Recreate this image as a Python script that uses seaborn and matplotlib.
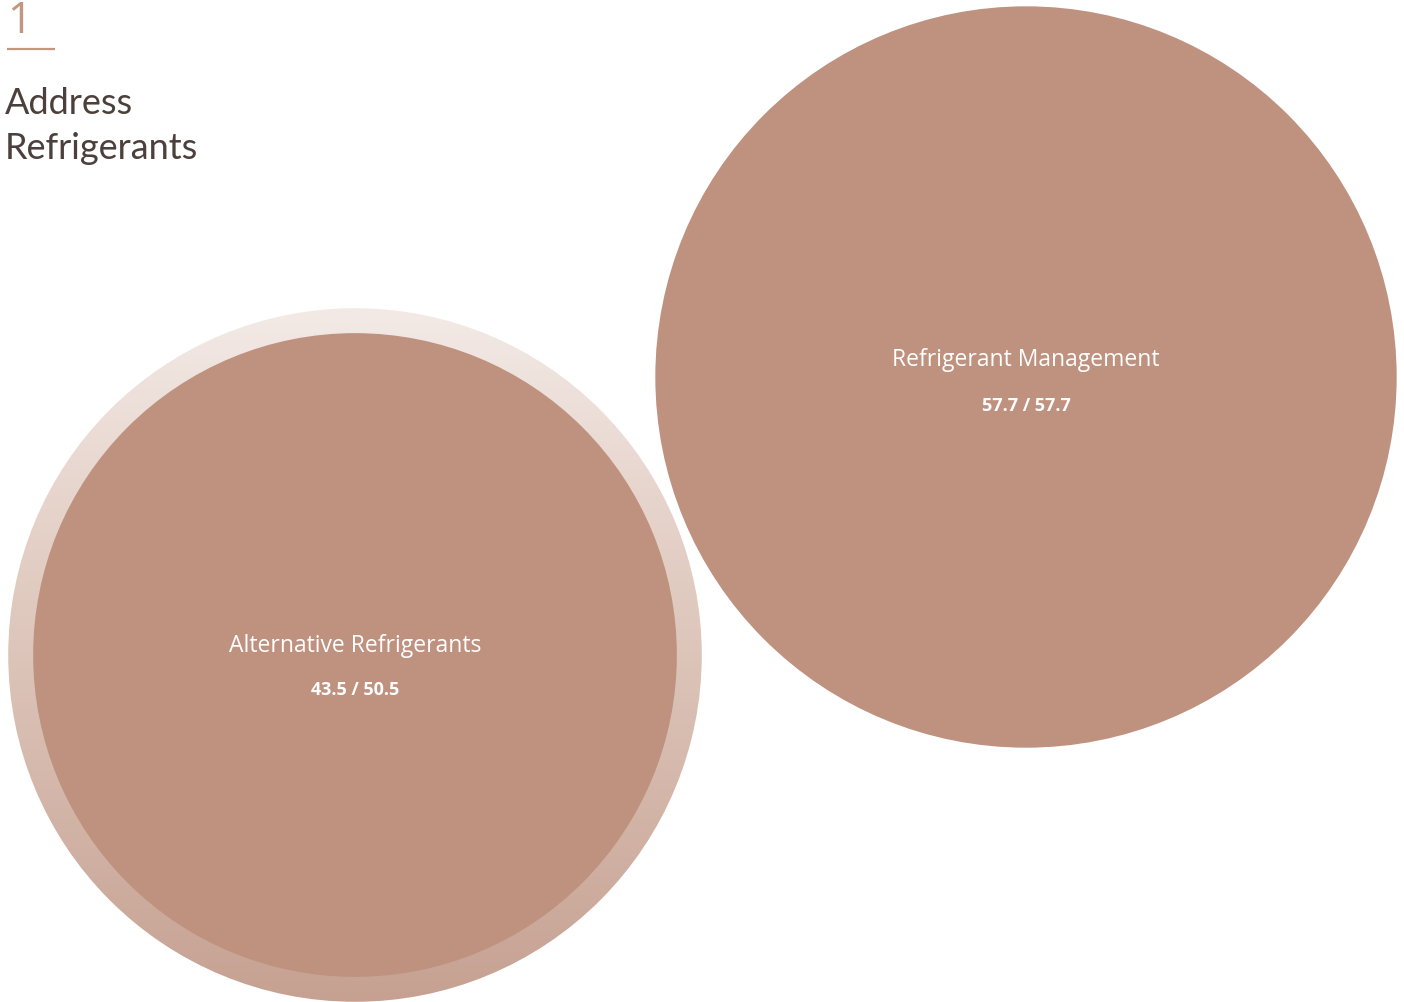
"""
Address Refrigerants - score bubbles
"""

import matplotlib.pyplot as plt
import numpy as np
import seaborn as sns
from matplotlib.colors import LinearSegmentedColormap
from matplotlib.patches import Circle

categories = ["Alternative Refrigerants", "Refrigerant Management"]
scores = [43.5, 57.7]
max_scores = [50.5, 57.7]

section_number = "1"
section_title = ["Address", "Refrigerants"]

FILL = "#bf917f"
ACCENT = "#c4957f"
DARK = "#4b403b"

# layout, in pixels (y goes down)
CENTERS = [(355, 656), (1026, 378)]
LABEL_DY = [(-10, 34), (-18, 28)]
PX_PER_SQRT = 48.8  # radius = PX_PER_SQRT * sqrt(score)


def main():
    sns.set_theme(style="white")
    plt.rcParams["font.family"] = ["Open Sans", "DejaVu Sans"]

    fig = plt.figure(figsize=(14.04, 10.03), dpi=100)
    ax = fig.add_axes([0, 0, 1, 1])
    ax.set_xlim(0, 1404)
    ax.set_ylim(1003, 0)
    ax.set_aspect("equal")
    ax.axis("off")

    ring_cmap = LinearSegmentedColormap.from_list(
        "ring", ["#f3eae6", "#e4d0c7", "#d5b9ac", "#c6a192"]
    )

    for cat, val, top, (cx, cy), (dl, dv) in zip(
        categories, scores, max_scores, CENTERS, LABEL_DY
    ):
        r_max = PX_PER_SQRT * np.sqrt(top)
        r_val = PX_PER_SQRT * np.sqrt(val)
        if top > val:
            # pale "textured" ring for the unreached part of the score
            grad = np.linspace(0, 1, 256)[:, None] * np.ones((1, 8))
            im = ax.imshow(
                grad,
                cmap=ring_cmap,
                extent=(cx - r_max, cx + r_max, cy + r_max, cy - r_max),
                interpolation="bicubic",
                zorder=1,
            )
            outer = Circle((cx, cy), r_max, transform=ax.transData)
            im.set_clip_path(outer)
        ax.add_patch(Circle((cx, cy), r_val, color=FILL, lw=0, zorder=2))
        ax.text(cx, cy + dl, cat, color="white", fontsize=16.5, weight="medium",
                ha="center", va="center", zorder=3)
        ax.text(cx, cy + dv, f"{val} / {top}", color="white", fontsize=13,
                weight="bold", ha="center", va="center", zorder=3)

    ax.set_xlim(0, 1404)
    ax.set_ylim(1003, 0)

    ax.text(7, 33, section_number, color=ACCENT, fontsize=31,
            ha="left", va="baseline", family=["Open Sans", "DejaVu Sans"])
    ax.plot([7, 55], [50, 50], color=ACCENT, lw=1.6, solid_capstyle="butt")
    for i, line in enumerate(section_title):
        ax.text(5, 114 + 45 * i, line, color=DARK, fontsize=26,
                ha="left", va="baseline", family=["Lato", "DejaVu Sans"])

    fig.savefig("out.png", dpi=100, facecolor="white")


if __name__ == "__main__":
    main()
